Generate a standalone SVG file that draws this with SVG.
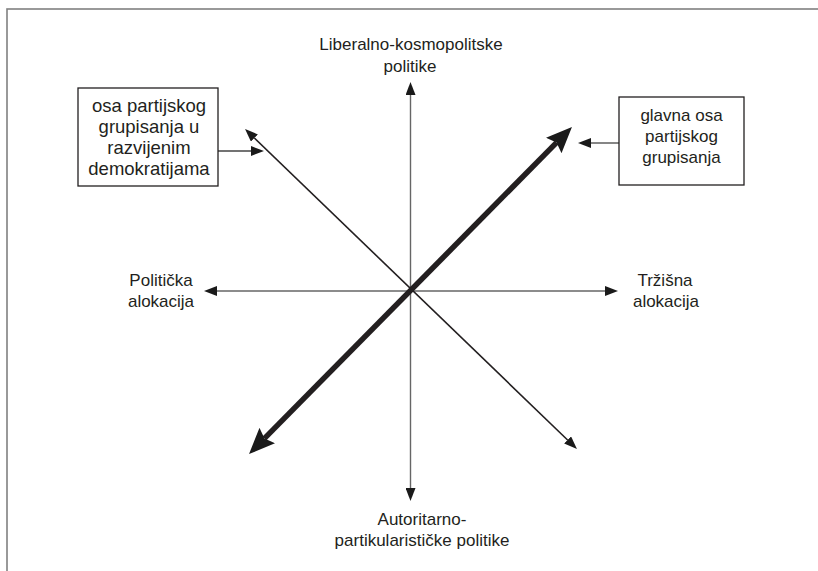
<svg xmlns="http://www.w3.org/2000/svg" width="818" height="571" viewBox="0 0 818 571">
<style>
.t{font-family:"Liberation Sans",Arial,sans-serif;font-size:17px;fill:#231f20;text-anchor:middle}
.tl{font-size:18.5px}
.box{fill:#fff;stroke:#231f20;stroke-width:1.3}
.axis{stroke:#666;stroke-width:1.4;fill:none}
.thin{stroke:#231f20;stroke-width:1.6;fill:none}
.thick{stroke:#231f20;stroke-width:5.5;fill:none}
.ptr{stroke:#444;stroke-width:1.3;fill:none}
</style>
<defs>
<marker id="ah" markerUnits="userSpaceOnUse" markerWidth="14" markerHeight="10" refX="0" refY="5" orient="auto-start-reverse">
<path d="M0,0 L13,5 L0,10 z" fill="#1a1a1a"/>
</marker>
<marker id="ahb" markerUnits="userSpaceOnUse" markerWidth="27" markerHeight="22" refX="4" refY="11" orient="auto-start-reverse">
<path d="M0,0 L26,11 L0,22 L4,11 z" fill="#1a1a1a"/>
</marker>
</defs>
<rect x="7" y="9" width="830" height="580" fill="none" stroke="#808080" stroke-width="1.6"/>
<g id="connectors">
<line class="axis" x1="410.5" y1="95" x2="410.5" y2="488" marker-start="url(#ah)" marker-end="url(#ah)"/>
<line class="axis" x1="217" y1="291" x2="605" y2="291" marker-start="url(#ah)" marker-end="url(#ah)"/>
<line class="thin" x1="254.4" y1="138" x2="567.6" y2="440" marker-start="url(#ah)" marker-end="url(#ah)"/>
<line class="thick" x1="264.5" y1="438.4" x2="556.5" y2="142.6" marker-start="url(#ahb)" marker-end="url(#ahb)"/>
<line class="ptr" x1="218" y1="151" x2="251" y2="151" marker-end="url(#ah)"/>
<line class="ptr" x1="619" y1="143" x2="591" y2="143" marker-end="url(#ah)"/>
</g>
<g id="top-label">
<text class="t" x="411" y="50">Liberalno-kosmopolitske</text>
<text class="t" x="410" y="72">politike</text>
</g>
<g id="bottom-label">
<text class="t" x="422" y="525">Autoritarno-</text>
<text class="t" x="422" y="546">partikularističke politike</text>
</g>
<g id="left-label">
<text class="t" x="161" y="286">Politička</text>
<text class="t" x="161" y="307">alokacija</text>
</g>
<g id="right-label">
<text class="t" x="665" y="286">Tržišna</text>
<text class="t" x="666" y="307">alokacija</text>
</g>
<g id="box-left">
<rect class="box" x="78" y="88" width="140" height="98"/>
<text class="t tl" x="149" y="112">osa partijskog</text>
<text class="t tl" x="149" y="133">grupisanja u</text>
<text class="t tl" x="149" y="154">razvijenim</text>
<text class="t tl" x="149" y="175">demokratijama</text>
</g>
<g id="box-right">
<rect class="box" x="619" y="97" width="125" height="88"/>
<text class="t" x="681.5" y="121">glavna osa</text>
<text class="t" x="681.5" y="142">partijskog</text>
<text class="t" x="681.5" y="163">grupisanja</text>
</g>
</svg>
